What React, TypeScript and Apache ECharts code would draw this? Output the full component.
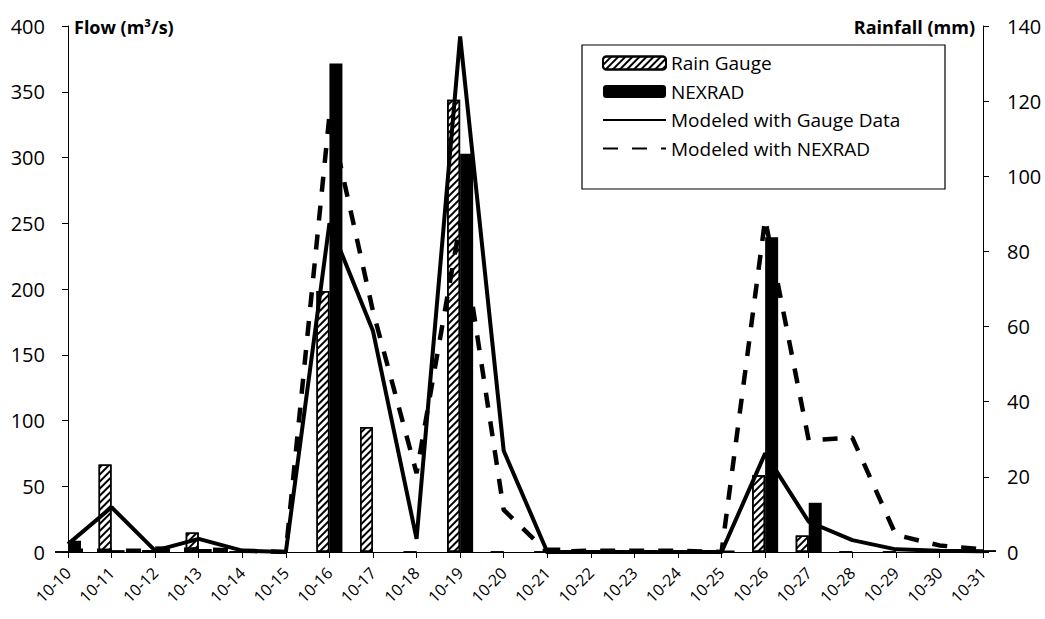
import React, { useEffect, useRef } from "react";
import * as echarts from "echarts";

const days = ["10-10","10-11","10-12","10-13","10-14","10-15","10-16","10-17","10-18","10-19","10-20","10-21","10-22","10-23","10-24","10-25","10-26","10-27","10-28","10-29","10-30","10-31"];
const rainGauge = [0, 23.3, 0.5, 5.2, 0, 0, 69.5, 33.3, 0, 120.4, 0, 0, 0, 0, 0, 0, 20.4, 4.4, 0, 0, 0, 0];
const nexrad = [3, 0.5, 1.5, 0.8, 0, 0, 130, 0, 0, 106, 0, 1.2, 0.5, 0.4, 0.5, 0.4, 83.8, 13.1, 0, 0, 0.4, 0.5];
const modeledGauge = [6, 34, 1, 10, 1, 0, 250, 168, 10, 392, 77, 0, 0, 0, 0, 0, 75, 23, 9, 2, 1, 0.5];
const modeledNexrad = [1, 1, 1, 2, 1, 0, 332, 183, 60, 250, 32, 0, 1, 1, 1, 0, 253, 85, 87, 13, 5, 2];

const FONT = "Open Sans";

export default function App() {
  const ref = useRef<HTMLDivElement>(null);
  useEffect(() => {
    const chart = echarts.init(ref.current!, null, { renderer: "svg" });
    const hatch = {
      symbol: "rect",
      symbolSize: 1,
      dashArrayX: [1, 0],
      dashArrayY: [1.6, 3],
      rotation: -Math.PI / 4,
      color: "#000",
      backgroundColor: "#fff",
    };
    chart.setOption({
      animation: false,
      backgroundColor: "#fff",
      textStyle: { fontFamily: FONT, color: "#000" },
      grid: { left: 68, right: 62, top: 26, bottom: 67, containLabel: false },
      legend: {
        orient: "vertical",
        left: 602,
        top: 53,
        itemWidth: 63,
        itemHeight: 13,
        itemGap: 8.5,
        padding: 0,
        textStyle: { fontFamily: FONT, fontSize: 19, color: "#000", lineHeight: 20 },
        data: [
          "Rain Gauge",
          "NEXRAD",
          { name: "Modeled with Gauge Data", itemStyle: { opacity: 0 } },
          { name: "Modeled with NEXRAD", itemStyle: { opacity: 0 } },
        ],
      },
      graphic: [
        { type: "rect", shape: { x: 582, y: 45, width: 363, height: 144 }, style: { fill: "none", stroke: "#000", lineWidth: 1.2 }, z: 10 },
        { type: "text", left: 74, top: 18, style: { text: "Flow (m³/s)", font: `bold 18px "${FONT}"`, fill: "#000" } },
        { type: "text", right: 70, top: 18, style: { text: "Rainfall (mm)", font: `bold 18px "${FONT}"`, fill: "#000" } },
      ],
      xAxis: {
        type: "category",
        data: days,
        boundaryGap: false,
        axisLine: { lineStyle: { color: "#000", width: 1 } },
        axisTick: { show: true, interval: 0, length: 6, inside: false, lineStyle: { color: "#000" } },
        axisLabel: { interval: 0, rotate: 45, fontSize: 16, color: "#000", fontFamily: FONT, margin: 18 },
        splitLine: { show: false },
      },
      yAxis: [
        {
          type: "value",
          min: 0,
          max: 400,
          interval: 50,
          axisLine: { show: true, lineStyle: { color: "#000", width: 1 } },
          axisTick: { show: true, length: 6, lineStyle: { color: "#000" } },
          axisLabel: { fontSize: 20, color: "#000", fontFamily: FONT, margin: 23 },
          splitLine: { show: false },
        },
        {
          type: "value",
          min: 0,
          max: 140,
          interval: 20,
          position: "right",
          axisLine: { show: true, lineStyle: { color: "#000", width: 1 } },
          axisTick: { show: true, length: 6, lineStyle: { color: "#000" } },
          axisLabel: { fontSize: 20, color: "#000", fontFamily: FONT, margin: 24 },
          splitLine: { show: false },
        },
      ],
      series: [
        {
          name: "Rain Gauge",
          type: "bar",
          yAxisIndex: 1,
          data: rainGauge,
          barWidth: 13,
          barGap: "0%",
          itemStyle: { color: "#fff", borderColor: "#000", borderWidth: 1.5, decal: hatch },
        },
        {
          name: "NEXRAD",
          type: "bar",
          yAxisIndex: 1,
          data: nexrad,
          barWidth: 13,
          barGap: "0%",
          itemStyle: { color: "#000", borderColor: "#000", borderWidth: 0 },
        },
        {
          name: "Modeled with Gauge Data",
          type: "line",
          yAxisIndex: 0,
          data: modeledGauge,
          symbol: "none",
          lineStyle: { color: "#000", width: 4 },
          itemStyle: { color: "#000" },
          z: 5,
        },
        {
          name: "Modeled with NEXRAD",
          type: "line",
          yAxisIndex: 0,
          data: modeledNexrad,
          symbol: "none",
          lineStyle: { color: "#000", width: 4.5, type: [15, 14] },
          itemStyle: { color: "#000" },
          z: 5,
        },
      ],
    });
    return () => chart.dispose();
  }, []);
  return <div ref={ref} style={{ position: "fixed", left: 0, top: 0, width: 1045, height: 619 }} />;
}
